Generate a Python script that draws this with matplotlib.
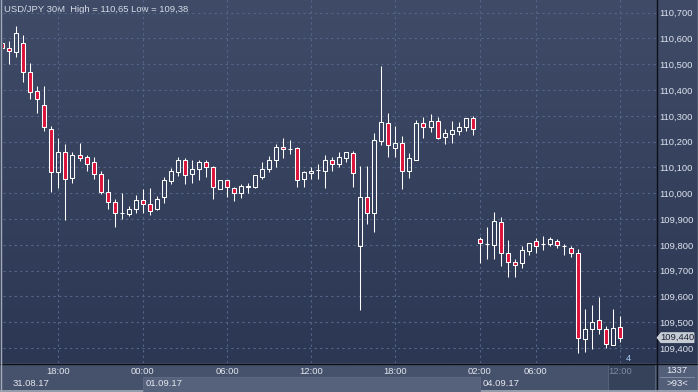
import numpy as np
import matplotlib
matplotlib.use('Agg')
import matplotlib.pyplot as plt
from matplotlib.patches import Rectangle, Polygon
from matplotlib.colors import LinearSegmentedColormap
import matplotlib.transforms as mtransforms

plt.rcParams['font.family'] = ['Liberation Sans', 'DejaVu Sans']

# USD/JPY 30 minute candles, 31.08.17 14:00 -> 04.09.17 12:00
opens = [110.584, 110.562, 110.549, 110.581, 110.469, 110.397, 110.341, 110.248, 110.084, 110.159,
         110.058, 110.147, 110.141, 110.120, 110.074, 110.006, 109.965, 109.922, 109.920, 109.938,
         109.973, 109.957, 109.938, 109.984, 110.049, 110.084, 110.128, 110.074, 110.093, 110.120,
         110.101, 110.018, 110.050, 110.019, 110.000, 110.026, 110.023, 110.062, 110.093, 110.129,
         110.178, 110.170, 110.174, 110.054, 110.078, 110.090, 110.086, 110.129, 110.112, 110.137,
         110.155, 109.797, 109.984, 109.922, 110.204, 110.271, 110.177, 110.194, 110.085, 110.128,
         110.271, 110.258, 110.279, 110.219, 110.231, 110.243, 110.256, 110.291, 109.822, 109.803,
         109.801, 109.888, 109.767, 109.733, 109.728, 109.778, 109.815, 109.803, 109.802, 109.816,
         109.797, 109.787, 109.767, 109.436, 109.475, 109.508, 109.474, 109.411, 109.481]
highs = [110.590, 110.590, 110.650, 110.614, 110.506, 110.416, 110.416, 110.261, 110.216, 110.191,
         110.161, 110.194, 110.148, 110.141, 110.086, 110.055, 109.978, 110.001, 109.951, 109.993,
         110.017, 110.021, 109.990, 110.062, 110.097, 110.141, 110.136, 110.129, 110.129, 110.127,
         110.104, 110.053, 110.053, 110.026, 110.035, 110.041, 110.071, 110.120, 110.146, 110.191,
         110.213, 110.207, 110.178, 110.086, 110.101, 110.114, 110.148, 110.142, 110.161, 110.161,
         110.165, 110.106, 110.106, 110.233, 110.493, 110.311, 110.261, 110.222, 110.157, 110.284,
         110.297, 110.307, 110.295, 110.249, 110.280, 110.275, 110.292, 110.300, 109.832, 109.869,
         109.926, 109.909, 109.819, 109.747, 109.796, 109.807, 109.826, 109.834, 109.829, 109.822,
         109.803, 109.796, 109.783, 109.552, 109.567, 109.598, 109.486, 109.552, 109.524]
lows = [110.557, 110.500, 110.529, 110.433, 110.366, 110.312, 110.243, 110.006, 110.019, 109.897,
        110.039, 110.126, 110.088, 110.054, 109.998, 109.939, 109.868, 109.900, 109.913, 109.922,
        109.922, 109.917, 109.935, 109.964, 110.035, 110.067, 110.037, 110.041, 110.052, 110.062,
        109.977, 110.015, 109.987, 109.971, 109.983, 110.002, 110.021, 110.055, 110.084, 110.103,
        110.138, 110.152, 110.026, 110.026, 110.055, 110.055, 110.019, 110.088, 110.101, 110.122,
        110.026, 109.548, 109.881, 109.851, 110.187, 110.139, 110.139, 110.018, 110.060, 110.127,
        110.213, 110.239, 110.209, 110.190, 110.196, 110.227, 110.243, 110.227, 109.731, 109.745,
        109.744, 109.719, 109.677, 109.677, 109.712, 109.762, 109.767, 109.780, 109.797, 109.787,
        109.762, 109.754, 109.380, 109.386, 109.395, 109.456, 109.402, 109.410, 109.425]
closes = [110.562, 110.553, 110.620, 110.469, 110.391, 110.364, 110.256, 110.084, 110.161, 110.054,
          110.147, 110.136, 110.112, 110.074, 110.006, 109.967, 109.922, 109.923, 109.938, 109.974,
          109.957, 109.933, 109.978, 110.050, 110.086, 110.128, 110.070, 110.093, 110.120, 110.102,
          110.023, 110.050, 110.023, 110.000, 110.028, 110.027, 110.069, 110.093, 110.129, 110.178,
          110.171, 110.171, 110.052, 110.084, 110.085, 110.090, 110.129, 110.114, 110.140, 110.159,
          110.078, 109.984, 109.922, 110.205, 110.275, 110.186, 110.194, 110.085, 110.136, 110.271,
          110.258, 110.280, 110.213, 110.233, 110.244, 110.256, 110.291, 110.248, 109.806, 109.804,
          109.891, 109.767, 109.735, 109.721, 109.780, 109.806, 109.797, 109.804, 109.822, 109.801,
          109.797, 109.770, 109.438, 109.473, 109.500, 109.473, 109.415, 109.477, 109.440]

time_ticks = [8, 20, 32, 44, 56, 68, 76, 88]
time_labels = ['18:00', '00:00', '06:00', '12:00', '18:00', '02:00', '06:00', '12:00']
date_pos = [1.5, 20.45, 68.45]
date_labels = ['31.08.17', '01.09.17', '04.09.17']
price_ticks = [109.4, 109.5, 109.6, 109.7, 109.8, 109.9, 110.0, 110.1, 110.2, 110.3, 110.4, 110.5, 110.6, 110.7]

W, H = 698, 392
FS = 6.8
fig = plt.figure(figsize=(W / 100, H / 100), dpi=100)

# background in pixel coordinates
bg = fig.add_axes([0, 0, 1, 1])
bg.set_xlim(0, W)
bg.set_ylim(H, 0)
bg.axis('off')
cmap = LinearSegmentedColormap.from_list('bgc', ['#3f4b67', '#2c3753'])
grad = np.linspace(0, 1, 256).reshape(-1, 1)
bg.imshow(grad, cmap=cmap, extent=[0, W, 363, 0], aspect='auto', zorder=0)
bg.add_patch(Rectangle((0, 363), W, 29, facecolor='#46526b', edgecolor='none', zorder=1))
bg.add_patch(Rectangle((608, 364), 47, 27, facecolor='#36415a', edgecolor='#56627a', lw=0.7, zorder=2))
bg.add_patch(Rectangle((657, 364), 41, 28, facecolor='#535f79', edgecolor='none', zorder=2))
bg.plot([0, W], [363.5, 363.5], color='#0c0f16', lw=1.0, zorder=3)
bg.plot([656.5, 656.5], [0, H], color='#0c0f16', lw=1.0, zorder=3)
bg.plot([660, 694], [377, 377], color='#8a94a8', lw=0.6, zorder=3)
bg.plot([0.5, 0.5], [0, H], color='#a3abb9', lw=1.0, zorder=4)
bg.plot([W - 0.5, W - 0.5], [0, H], color='#a3abb9', lw=1.0, zorder=4)
bg.plot([0, W], [H - 0.8, H - 0.8], color='#a3abb9', lw=1.2, zorder=4)
bg.text(677, 370.5, '1337', color='#e8ecf2', fontsize=FS, ha='center', va='center', zorder=5)
bg.text(677, 384, '>93<', color='#e8ecf2', fontsize=FS, ha='center', va='center', zorder=5)
bg.text(628.5, 358.5, '4', color='#a9cdf5', fontsize=FS, ha='center', va='center', zorder=5)
bg.text(4, 9.5, 'USD/JPY 30M  High = 110,65 Low = 109,38', color='#d6dce8',
        fontsize=FS, ha='left', va='center', zorder=5)

# main chart
ax = fig.add_axes([3 / W, 29 / H, 653 / W, 363 / H])
ax.patch.set_alpha(0)
for s in ax.spines.values():
    s.set_visible(False)
ax.set_xlim(0.1, 93.12)
ax.set_ylim(109.342, 110.749)

ax.set_yticks(price_ticks)
ax.set_yticklabels([f'{p:.3f}'.replace('.', ',') for p in price_ticks])
ax.yaxis.tick_right()
ax.tick_params(axis='y', length=0, pad=2.2, labelsize=FS, labelcolor='#dde3ee')
ax.set_xticks(time_ticks)
ax.set_xticklabels(time_labels)
ax.tick_params(axis='x', length=0, pad=3.0, labelsize=FS, labelcolor='#e3e7ef')
ax.get_xticklabels()[-1].set_color('#7f8ba0')
ax.grid(True, color='#56668a', linestyle=(0, (2, 3)), linewidth=0.8)
ax.set_axisbelow(True)

idx = np.arange(len(opens))
o = np.array(opens)
c = np.array(closes)
hi = np.array(highs)
lo = np.array(lows)
top = np.maximum(o, c)
bot = np.minimum(o, c)
up = c >= o

ax.vlines(idx, top, hi, color='white', lw=0.75, zorder=3)
ax.vlines(idx, lo, bot, color='white', lw=0.75, zorder=3)
ax.bar(idx[up], (top - bot)[up], bottom=bot[up], width=0.57, facecolor='none',
       edgecolor='white', linewidth=0.75, zorder=4)
ax.bar(idx[~up], (top - bot)[~up], bottom=bot[~up], width=0.57, facecolor='#dc143c',
       edgecolor='white', linewidth=0.75, zorder=4)

# date row below the time labels
blend = mtransforms.blended_transform_factory(ax.transData, ax.transAxes)
ax.add_patch(Rectangle((20, -0.08), 48, 0.0414, transform=blend, facecolor='#56627c',
                       edgecolor='#5f6b84', lw=0.6, clip_on=False, zorder=1))
for xp, lab in zip(date_pos, date_labels):
    ax.text(xp, -0.0565, lab, transform=blend, color='#e3e7ef', fontsize=FS,
            ha='left', va='center', clip_on=False, zorder=2)

# last price tag, placed on the background at the pixel row of the last close
last = closes[-1]
ty = H - ax.transData.transform((0, last))[1]
tag = Polygon([(657, ty), (661, ty - 5), (694, ty - 5), (694, ty + 5), (661, ty + 5)],
              closed=True, facecolor='#c6cbd4', edgecolor='#e0e3e8', lw=0.5, zorder=6)
bg.add_patch(tag)
bg.text(677.5, ty, f'{last:.3f}'.replace('.', ','), color='#1a2132', fontsize=FS,
        ha='center', va='center', zorder=7)

fig.savefig('out.png', dpi=100)
